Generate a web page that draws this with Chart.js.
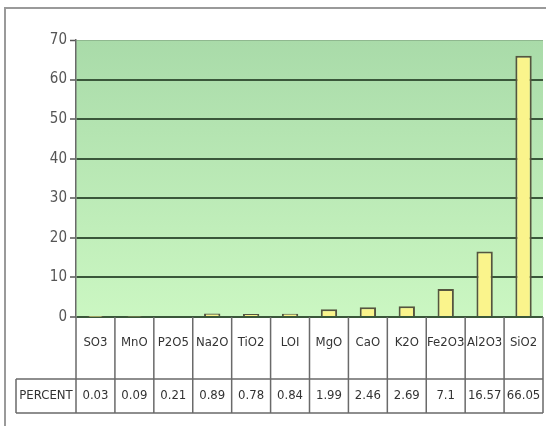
<!DOCTYPE html>
<html>
<head>
<meta charset="utf-8">
<script src="https://cdn.jsdelivr.net/npm/chart.js@4/dist/chart.umd.min.js"></script>
<style>
  html, body { margin: 0; padding: 0; background: #fff; }
  #wrap { width: 546px; height: 426px; }
</style>
</head>
<body>
<div id="wrap"><canvas id="chart" width="546" height="426"></canvas></div>
<script>
const categories = ['SO3', 'MnO', 'P2O5', 'Na2O', 'TiO2', 'LOI', 'MgO', 'CaO', 'K2O', 'Fe2O3', 'Al2O3', 'SiO2'];
const percent = [0.03, 0.09, 0.21, 0.89, 0.78, 0.84, 1.99, 2.46, 2.69, 7.1, 16.57, 66.05];
const seriesName = 'PERCENT';
const yTicks = [0, 10, 20, 30, 40, 50, 60, 70];

const narrow = "'Liberation Sans Narrow', 'Arial Narrow', 'DejaVu Sans Condensed', sans-serif";

// fond vert dégradé + cadre extérieur
const backdrop = {
  id: 'backdrop',
  beforeDraw(chart) {
    const { ctx, chartArea: a } = chart;
    ctx.save();
    const g = ctx.createLinearGradient(0, a.top, 0, a.bottom);
    g.addColorStop(0, '#a9dba9');
    g.addColorStop(1, '#cbf7c2');
    ctx.fillStyle = g;
    ctx.fillRect(a.left, a.top, a.right - a.left, a.bottom - a.top);
    ctx.strokeStyle = '#9a9a9a';
    ctx.lineWidth = 2;
    ctx.beginPath();
    ctx.moveTo(5, 426);
    ctx.lineTo(5, 8);
    ctx.lineTo(546, 8);
    ctx.stroke();
    ctx.restore();
  }
};

// tableau de données sous l'axe
const dataTable = {
  id: 'dataTable',
  afterDraw(chart) {
    const { ctx, chartArea: a } = chart;
    const x = chart.scales.x;
    const n = categories.length;
    const colW = (a.right - a.left) / n;
    const rowTop = a.bottom;
    const rowMid = a.bottom + 62;
    const rowBot = a.bottom + 96;
    const labelLeft = 16;
    ctx.save();
    ctx.strokeStyle = '#6a6a6a';
    ctx.lineWidth = 1.5;
    ctx.beginPath();
    for (let i = 0; i <= n; i++) {
      const xx = a.left + i * colW;
      ctx.moveTo(xx, rowTop);
      ctx.lineTo(xx, rowBot);
    }
    ctx.moveTo(labelLeft, rowMid);
    ctx.lineTo(a.right, rowMid);
    ctx.moveTo(labelLeft, rowBot);
    ctx.lineTo(a.right, rowBot);
    ctx.moveTo(labelLeft, rowMid);
    ctx.lineTo(labelLeft, rowBot);
    ctx.stroke();

    ctx.fillStyle = '#333';
    ctx.font = '13px ' + narrow;
    ctx.textAlign = 'center';
    ctx.textBaseline = 'middle';
    categories.forEach((c, i) => {
      const cx = x.getPixelForValue(i);
      ctx.fillText(c, cx, rowTop + 26);
      ctx.fillText(String(percent[i]), cx, (rowMid + rowBot) / 2);
    });
    ctx.fillText(seriesName, (labelLeft + a.left) / 2, (rowMid + rowBot) / 2);
    ctx.restore();
  }
};

new Chart(document.getElementById('chart'), {
  type: 'bar',
  data: {
    labels: categories,
    datasets: [{
      label: seriesName,
      data: percent,
      backgroundColor: '#faf48c',
      borderColor: '#55553f',
      borderWidth: 2,
      borderSkipped: 'bottom',
      categoryPercentage: 1,
      barPercentage: 0.42
    }]
  },
  options: {
    responsive: false,
    animation: false,
    layout: { padding: { top: 40, right: 3, bottom: 109, left: 0 } },
    plugins: {
      legend: { display: false },
      tooltip: { enabled: false }
    },
    scales: {
      x: {
        display: false,
        grid: { display: false }
      },
      y: {
        min: 0,
        max: 70,
        afterFit(s) { s.width = 76; },
        afterBuildTicks(s) { s.ticks = yTicks.map(v => ({ value: v })); },
        border: { display: true, color: '#6a6a6a', width: 1.5 },
        grid: {
          color: ctx => (ctx.tick.value === 70 ? '#8fb88f' : '#3a573a'),
          lineWidth: ctx => (ctx.tick.value === 70 ? 1 : 2),
          tickLength: 6,
          tickColor: '#555',
          tickWidth: 1.5
        },
        ticks: {
          padding: 3,
          color: '#555',
          font: { family: narrow, size: 15 }
        }
      }
    }
  },
  plugins: [backdrop, dataTable]
});
</script>
</body>
</html>
